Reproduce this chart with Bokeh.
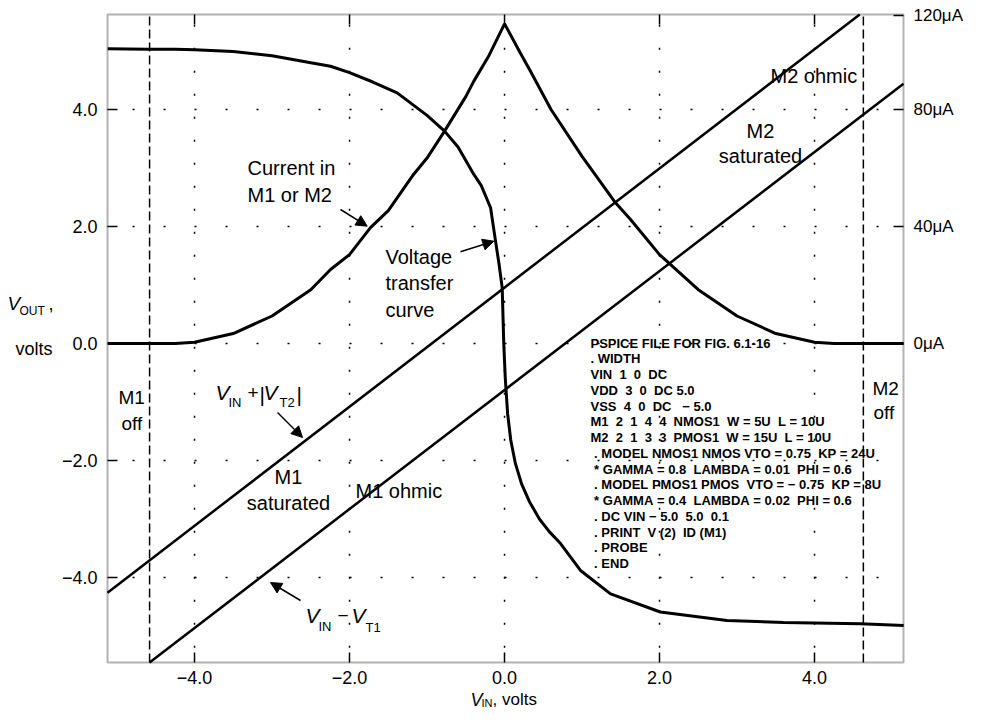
from bokeh.plotting import figure
from bokeh.models import Range1d, LinearAxis, FixedTicker, Label, Arrow, NormalHead, BoxAnnotation
from bokeh.embed import file_html
from bokeh.resources import INLINE

# ---------------- data ----------------
vtc_x = [-5.12, -4.6, -4.25, -4.0, -3.5, -3.0, -2.5, -2.245, -2.0, -1.7, -1.385, -1.0, -0.774, -0.6,
         -0.396, -0.3, -0.18, -0.116, -0.07, -0.03, -0.01, 0.01, 0.04, 0.08, 0.14, 0.22, 0.32,
         0.45, 0.58, 0.723, 0.98, 1.368, 2.01, 2.87, 3.6, 4.59, 5.15]
vtc_y = [5.04, 5.03, 5.03, 5.02, 4.99, 4.92, 4.80, 4.74, 4.63, 4.47, 4.285, 3.9, 3.63, 3.36,
         2.89, 2.7, 2.32, 1.75, 1.35, 0.95, 0.0, -0.6, -1.2, -1.65, -2.05, -2.4, -2.7,
         -3.0, -3.22, -3.42, -3.88, -4.28, -4.59, -4.735, -4.77, -4.79, -4.82]

cur_x = [-5.12, -4.6, -4.25, -4.0, -3.5, -3.0, -2.5, -2.245, -2.0, -1.73, -1.5, -1.174, -1.0, -0.774,
         -0.5, -0.396, -0.2, 0.0, 0.2, 0.335, 0.6, 1.0, 1.432, 1.626, 2.0, 2.5, 3.0, 3.5, 4.0, 4.25, 4.6, 5.15]
cur_uA = [0, 0, 0, 0.4, 3.4, 9.4, 18.4, 25.3, 30.4, 39.6, 45.4, 57.8, 63.4, 72.6,
          84.4, 89.7, 98.5, 109.3, 99.5, 93.1, 80, 64, 48.1, 42.4, 30.4, 18.4, 9.4, 3.4, 0.4, 0, 0, 0]

upper_x = [-5.123, 4.583]    # V_IN + |V_T2|
upper_y = [-4.26, 5.624]
lower_x = [-4.58, 5.148]     # V_IN - V_T1
lower_y = [-5.453, 4.44]

off_x = [-4.58, 4.63]        # M1 off / M2 off boundaries

x_ticks = [-4, -2, 0, 2, 4]
y_ticks = [-4, -2, 0, 2, 4]
tick_labels = {-4: "\u22124.0", -2: "\u22122.0", 0: "0.0", 2: "2.0", 4: "4.0"}
cur_ticks = [0, 40, 80, 112]
cur_labels = {0: "0\u03bcA", 40: "40\u03bcA", 80: "80\u03bcA", 112: "120\u03bcA"}

NB = "\u00a0"
spice_lines = [
    "PSPICE FILE FOR FIG. 6.1-16",
    ". WIDTH",
    "VIN  1  0  DC",
    "VDD  3  0  DC 5.0",
    "VSS  4  0  DC   \u2212 5.0",
    "M1  2  1  4  4  NMOS1  W = 5U  L = 10U",
    "M2  2  1  3  3  PMOS1  W = 15U  L = 10U",
    " . MODEL NMOS1 NMOS VTO = 0.75  KP = 24U",
    " * GAMMA = 0.8  LAMBDA = 0.01  PHI = 0.6",
    " . MODEL PMOS1 PMOS  VTO = \u2212 0.75  KP = 8U",
    " * GAMMA = 0.4  LAMBDA = 0.02  PHI = 0.6",
    " . DC VIN \u2212 5.0  5.0  0.1",
    " . PRINT  V (2)  ID (M1)",
    " . PROBE",
    " . END",
]
spice_text = "\n".join(line.replace(" ", NB) for line in spice_lines)

# plotted window (the drawn frame) and page geometry
W, H = 966, 710
X0, X1 = -5.123, 5.148
Y0, Y1 = -5.453, 5.624
FL, FT = 107, 14                 # frame left / top in pixels
SX = 796 / (X1 - X0)             # px per volt, horizontal
SY = 648 / (Y1 - Y0)             # px per volt, vertical
UA_PER_V = 20.0

XR = (X0 - FL / SX, X0 + (W - FL) / SX)
YR = (Y1 - (H - FT) / SY, Y1 + FT / SY)


def px(xp):
    return X0 + (xp - FL) / SX


def py(yp):
    return Y1 - (yp - FT) / SY


FONT = "Liberation Sans"

p = figure(width=W, height=H, output_backend="svg", toolbar_location=None,
           x_range=Range1d(*XR), y_range=Range1d(*YR),
           x_axis_location=None, y_axis_location=None,
           min_border=0, min_border_left=0, min_border_right=0, min_border_top=0, min_border_bottom=0,
           background_fill_color="white", border_fill_color="white")
p.extra_y_ranges = {"cur": Range1d(YR[0] * UA_PER_V, YR[1] * UA_PER_V)}
p.outline_line_color = None
p.grid.visible = False


def style_axis(ax, standoff, size="18px"):
    ax.major_tick_in = 10
    ax.major_tick_out = 0
    ax.minor_tick_in = 0
    ax.minor_tick_out = 0
    ax.major_tick_line_width = 1.5
    ax.axis_line_color = None
    ax.major_label_text_font = FONT
    ax.major_label_text_font_size = size
    ax.major_label_text_color = "black"
    ax.major_label_standoff = standoff


xax = LinearAxis(ticker=FixedTicker(ticks=x_ticks), fixed_location=Y0)
xax.major_label_overrides = tick_labels
style_axis(xax, 8)
p.add_layout(xax, "below")

yax = LinearAxis(ticker=FixedTicker(ticks=y_ticks), fixed_location=X0)
yax.major_label_overrides = tick_labels
style_axis(yax, 10)
p.add_layout(yax, "left")

rax = LinearAxis(y_range_name="cur", ticker=FixedTicker(ticks=cur_ticks), fixed_location=X1)
rax.major_label_overrides = cur_labels
style_axis(rax, 10, "17px")
p.add_layout(rax, "right")

# frame box
p.add_layout(BoxAnnotation(left=X0, right=X1, bottom=Y0, top=Y1, fill_color=None,
                           line_color="black", line_width=2, level="overlay"))

# dotted grid lines at the major ticks
p.segment(x0=x_ticks, x1=x_ticks, y0=[-5.2] * len(x_ticks), y1=[Y1] * len(x_ticks),
          line_color="black", line_width=1.5, line_dash="2 21")
p.segment(x0=[-4.8] * len(y_ticks), x1=[X1] * len(y_ticks), y0=y_ticks, y1=y_ticks,
          line_color="black", line_width=1.5, line_dash="2 29")

# ticks on top edge
p.segment(x0=x_ticks, x1=x_ticks, y0=[Y1] * len(x_ticks), y1=[Y1 - 10 / SY] * len(x_ticks),
          line_color="black", line_width=1.5)

# off boundaries
p.segment(x0=off_x, x1=off_x, y0=[Y0] * len(off_x), y1=[Y1] * len(off_x),
          line_color="black", line_width=1.5, line_dash="9 4")

# lines and curves
p.line(upper_x, upper_y, line_color="black", line_width=2.5)
p.line(lower_x, lower_y, line_color="black", line_width=2.5)
p.line(vtc_x, vtc_y, line_color="black", line_width=3)
p.line(cur_x, cur_uA, y_range_name="cur", line_color="black", line_width=3)


def lab(text, xp, yp, size=20, style="normal", align="left", baseline="middle"):
    p.add_layout(Label(x=px(xp), y=py(yp), text=text,
                       text_font=FONT, text_font_size=f"{size}px", text_font_style=style,
                       text_align=align, text_baseline=baseline, text_color="black"))


lab("Current in", 247, 167)
lab("M1 or M2", 247, 194)
lab("Voltage", 385, 256)
lab("transfer", 385, 282)
lab("curve", 385, 309)
lab("M2 ohmic", 770, 75)
lab("M2", 760, 130, align="center")
lab("saturated", 760, 155, align="center")
lab("M1", 288, 476, align="center")
lab("saturated", 288, 502, align="center")
lab("M1 ohmic", 355, 490)
lab("M1", 118, 397, size=19)
lab("off", 121, 423, size=19)
lab("M2", 872, 388, size=19)
lab("off", 873, 412, size=19)

# V_IN + |V_T2|
lab("V", 215, 392, size=21, style="italic", baseline="alphabetic")
lab("IN", 228, 402, size=13, baseline="alphabetic")
lab("+", 247, 392, size=19, baseline="alphabetic")
lab("|", 259, 394, size=21, baseline="alphabetic")
lab("V", 263, 392, size=21, style="italic", baseline="alphabetic")
lab("T2", 279, 402, size=13, baseline="alphabetic")
lab("|", 296, 394, size=21, baseline="alphabetic")

# V_IN - V_T1
lab("V", 305, 615, size=21, style="italic", baseline="alphabetic")
lab("IN", 318, 626, size=13, baseline="alphabetic")
lab("\u2212", 337, 615, size=19, baseline="alphabetic")
lab("V", 351, 615, size=21, style="italic", baseline="alphabetic")
lab("T1", 365, 627, size=13, baseline="alphabetic")

# axis titles
lab("V", 470, 699, size=18, style="italic", baseline="alphabetic")
lab("IN", 481, 702, size=11, baseline="alphabetic")
lab(", volts", 492, 699, size=17, baseline="alphabetic")
lab("V", 7, 303, size=19, style="italic", baseline="alphabetic")
lab("OUT", 19, 310, size=12, baseline="alphabetic")
lab(",", 48, 303, size=18, baseline="alphabetic")
lab("volts", 15, 348, size=18, baseline="alphabetic")

# PSPICE listing
p.add_layout(Label(x=px(590), y=py(335), text=spice_text, text_font=FONT, text_font_size="13px",
                   text_font_style="bold", text_line_height=1.05,
                   text_align="left", text_baseline="top", text_color="black"))

# arrows
head = dict(size=11, fill_color="black", line_color="black")
arrows = [
    (340, 209, 366.7, 225.7),
    (460, 251.3, 493.3, 240.7),
    (277, 412, 302, 437),
    (300, 600, 270, 582),
]
for x0, y0, x1, y1 in arrows:
    p.add_layout(Arrow(end=NormalHead(**head), x_start=px(x0), y_start=py(y0), x_end=px(x1), y_end=py(y1),
                       line_color="black", line_width=1.5))

open("out.html", "w").write(file_html(p, INLINE))
